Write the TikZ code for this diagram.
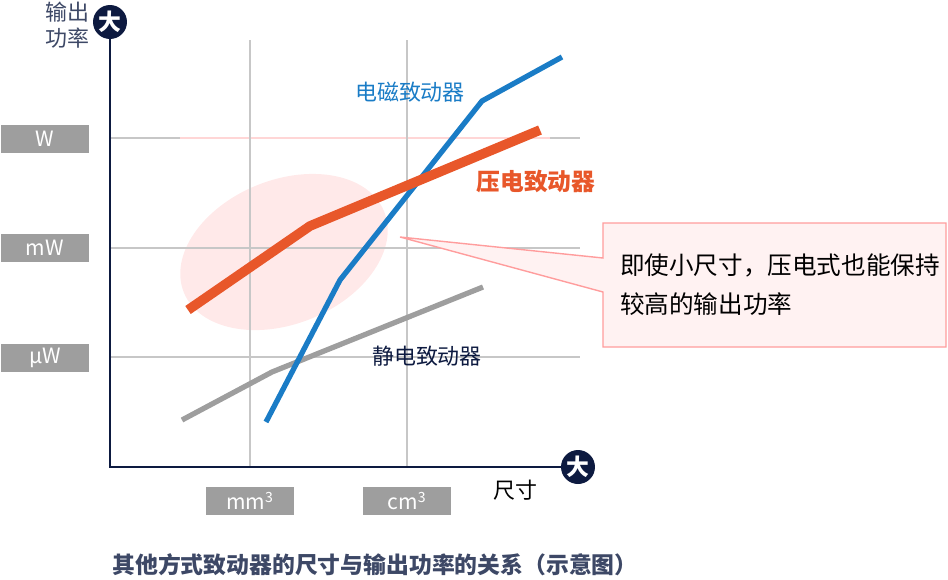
\documentclass[tikz,border=0pt]{standalone}
\usepackage{fontspec}
\setmainfont{Noto Sans CJK SC}
\begin{document}
\begin{tikzpicture}[x=0.02cm,y=-0.02cm,
  lbl/.style={fill=black!38,text=white,minimum width=1.78cm,minimum height=0.56cm,inner sep=0,font=\fontsize{12}{14}\selectfont},
  bigc/.style={circle,fill=navy,text=white,minimum size=0.68cm,inner sep=0,font=\fontsize{13}{14}\selectfont\bfseries},
  grid/.style={draw=black!22,line width=0.6pt},
  t/.style={font=\fontsize{12.5}{15}\selectfont,inner sep=1pt}]
\definecolor{navy}{HTML}{0D1A40}
\definecolor{blu}{HTML}{1A7CC6}
\definecolor{org}{HTML}{E8572A}
\useasboundingbox (0,0) rectangle (948,579);
% ellipse
\fill[pink!35] (284,252) ellipse [x radius=108,y radius=72,rotate=22];
% grid
\coordinate (gW1) at (110,138); \coordinate (gW2) at (580,138);
\coordinate (gm1) at (110,248); \coordinate (gm2) at (580,248);
\coordinate (gu1) at (110,357); \coordinate (gu2) at (580,357);
\coordinate (v1a) at (250,40); \coordinate (v1b) at (250,467);
\coordinate (v2a) at (407,40); \coordinate (v2b) at (407,467);
\draw[grid] (gW1)--(gW2); \draw[draw=pink!80!red!40,line width=0.6pt] (180,138)--(550,138);
\draw[grid] (gm1)--(gm2); \draw[grid] (gu1)--(gu2);
\draw[grid] (v1a)--(v1b); \draw[grid] (v2a)--(v2b);
% axes
\node[bigc] (ya) at (110,22) {大};
\node[bigc] (xa) at (578,467) {大};
\coordinate (o) at (110,467);
\draw[navy,line width=1.3pt] (ya)--(o)--(xa);
\node[t,align=left,anchor=east,text=navy!80] (yl) at (92,25) {输出\\功率};
\node[t] (xl) at (515,490) {尺寸};
% labels
\node[lbl] (lW) at (45,139) {W};
\node[lbl] (lm) at (45,248) {mW};
\node[lbl] (lu) at (45,358) {µW};
\node[lbl] (lmm) at (250,501) {mm\textsuperscript{3}};
\node[lbl] (lcm) at (407,501) {cm\textsuperscript{3}};
% lines
\draw[black!38,line width=3pt] (182,420)--(272,372)--(483,287);
\draw[blu,line width=3pt] (266,422)--(340,280)--(482,101)--(562,57);
\draw[org,line width=5.5pt] (188,310)--(310,226)--(540,130);
\node[t,text=blu] (eb) at (410,92) {电磁致动器};
\node[t,text=org,font=\fontsize{13.5}{15}\selectfont\bfseries] (pz) at (536,182) {压电致动器};
\node[t,text=navy] (es) at (427,356) {静电致动器};
% callout
\coordinate (tip) at (400,237);
\draw[draw=pink!60!red!70,fill=pink!20,line width=0.8pt] (603,258)--(tip)--(603,292)--(603,347)--(946,347)--(946,223)--(603,223)--cycle;
\fill[pink!20] (602,259)--(602,291)--(604,291)--(604,259)--cycle;
\node[t,anchor=north west,align=left,font=\fontsize{14}{22}\selectfont] (co) at (618,252) {即使小尺寸，压电式也能保持\\较高的输出功率};
% caption
\node[t,font=\fontsize{13}{15}\selectfont\bfseries,text=navy!80] (cap) at (375,565) {其他方式致动器的尺寸与输出功率的关系（示意图）};
\end{tikzpicture}
\end{document}
